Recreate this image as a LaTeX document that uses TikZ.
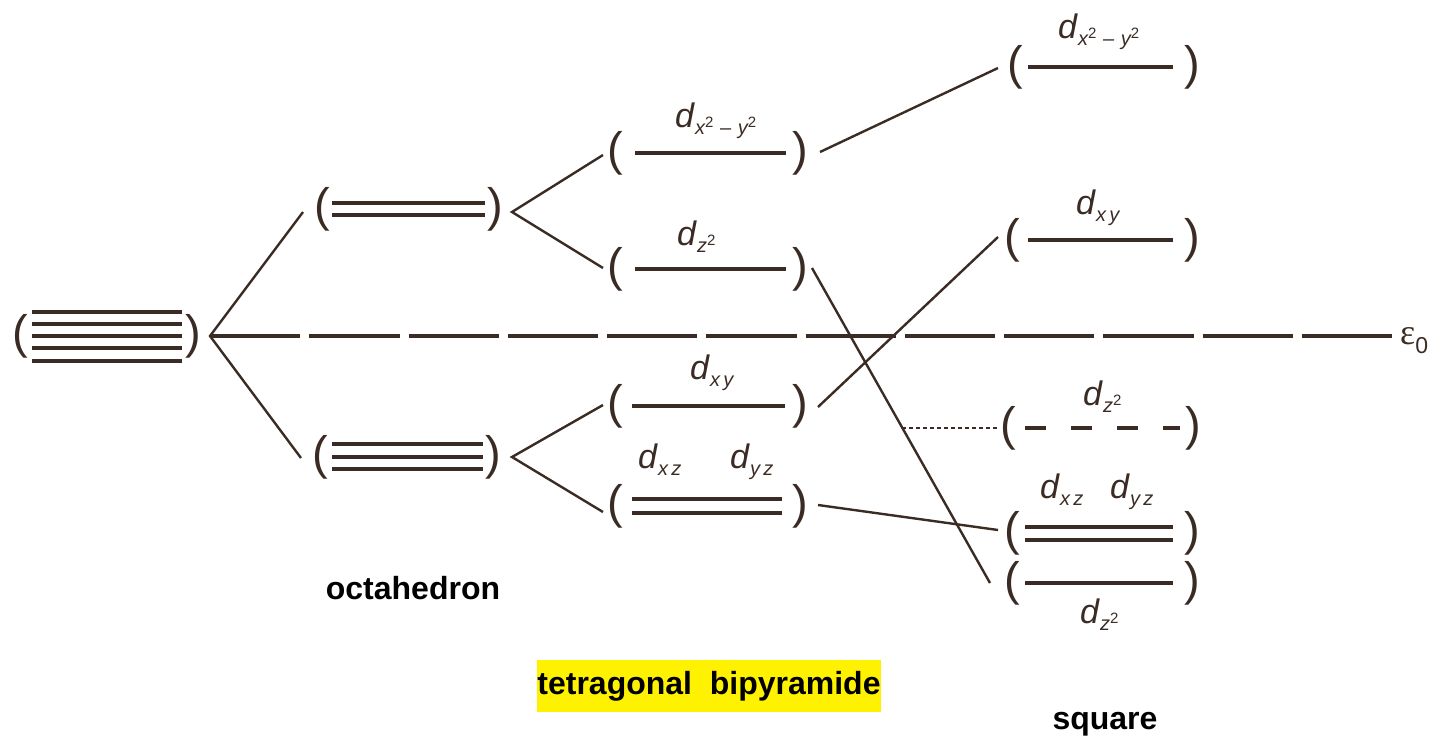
\documentclass[tikz,border=0pt]{standalone}
\usepackage{fontspec}
\setmainfont{Liberation Sans}
\newfontfamily\greekfont{Liberation Serif}
\usetikzlibrary{positioning}
\definecolor{ink}{RGB}{58,44,36}
\newcommand{\orb}[1]{{\fontsize{34}{34}\selectfont\textit{d}}\raisebox{-7pt}{\fontsize{20}{20}\selectfont\textit{#1}}}
\newcommand{\sq}{\raisebox{7pt}{\fontsize{15}{15}\selectfont\textup{2}}}

\begin{document}
\begin{tikzpicture}[x=1pt, y=-1pt, level/.style={ink, line width=3.6pt},
        conn/.style={ink, line width=2.4pt}, paren/.style={ink, inner sep=0pt,
        font=\fontsize{47}{47}\selectfont}, lab/.style={ink, inner sep=0pt,
        anchor=base west}, caption/.style={inner sep=0pt,
        font=\bfseries\fontsize{32}{32}\selectfont} ]

    \useasboundingbox (0,0) rectangle (1435,740);

    % spherical field: five degenerate levels
    \node[paren] (sphL) at (20,336) {(}; \node[paren] (sphR) at (193,336) {)};
    \foreach \y in {312,324,336,348,361} \draw[level] (32,\y) -- (182,\y);

    % octahedron
    \node[paren] (octUL) at (322,209) {(}; \node[paren] (octUR) at (495,209) {)};
    \draw[level] (332,203) -- (485,203); \draw[level] (332,215) -- (485,215);
    \node[paren] (octLL) at (320,457) {(}; \node[paren] (octLR) at (493,457) {)};
    \foreach \y in {444,457,469} \draw[level] (332,\y) -- (483,\y);

    % tetragonal bipyramide
    \node[paren] (mX2L) at (615,153) {(}; \node[paren] (mX2R) at (800,153) {)};
    \draw[level] (635,153) -- (786,153);
    \node[lab] (mX2lab) at (675,127) {\orb{x\sq\,\,--\,\,y\sq}};
    \node[paren] (mZ2L) at (615,269) {(}; \node[paren] (mZ2R) at (800,269) {)};
    \draw[level] (635,269) -- (786,269);
    \node[lab] (mZ2lab) at (677,245) {\orb{z\sq}};
    \node[paren] (mXYL) at (615,406) {(}; \node[paren] (mXYR) at (800,406) {)};
    \draw[level] (632,406) -- (785,406);
    \node[lab] (mXYlab) at (690,379) {\orb{x\,y}};
    \node[paren] (mXZL) at (615,506) {(}; \node[paren] (mXZR) at (800,506) {)};
    \draw[level] (632,499) -- (782,499); \draw[level] (632,513) -- (782,513);
    \node[lab] (mXZlab) at (638,468) {\orb{x\,z}};
    \node[lab] (mYZlab) at (730,468) {\orb{y\,z}};

    % square planar
    \node[paren] (sX2L) at (1015,67) {(}; \node[paren] (sX2R) at (1192,67) {)};
    \draw[level] (1028,67) -- (1173,67);
    \node[lab] (sX2lab) at (1058,38) {\orb{x\sq\,\,--\,\,y\sq}};
    \node[paren] (sXYL) at (1012,240) {(}; \node[paren] (sXYR) at (1192,240) {)};
    \draw[level] (1028,240) -- (1173,240);
    \node[lab] (sXYlab) at (1076,214) {\orb{x\,y}};
    \node[paren] (sZ2dL) at (1008,428) {(}; \node[paren] (sZ2dR) at (1193,428) {)};
    \draw[level, dash pattern=on 21pt off 25pt] (1025,428) -- (1180,428);
    \node[lab] (sZ2dlab) at (1083,405) {\orb{z\sq}};
    \node[paren] (sXZL) at (1012,533) {(}; \node[paren] (sXZR) at (1192,533) {)};
    \draw[level] (1025,527) -- (1173,527); \draw[level] (1025,540) -- (1173,540);
    \node[lab] (sXZlab) at (1040,498) {\orb{x\,z}};
    \node[lab] (sYZlab) at (1110,498) {\orb{y\,z}};
    \node[paren] (sZ2L) at (1012,583) {(}; \node[paren] (sZ2R) at (1192,583) {)};
    \draw[level] (1025,583) -- (1173,583);
    \node[lab] (sZ2lab) at (1080,623) {\orb{z\sq}};

    % connector ends
    \coordinate (split) at (210,336);
    \coordinate (octUin) at (303,212); \coordinate (octLin) at (301,458);
    \coordinate (octUout) at (512,212); \coordinate (octLout) at (512,457);
    \coordinate (mX2in) at (603,155); \coordinate (mZ2in) at (603,268);
    \coordinate (mXYin) at (603,405); \coordinate (mXZin) at (603,512);
    \coordinate (mX2out) at (820,152); \coordinate (mZ2out) at (812,268);
    \coordinate (mXYout) at (818,407); \coordinate (mXZout) at (818,505);
    \coordinate (sX2in) at (998,68); \coordinate (sXYin) at (998,237);
    \coordinate (sXZin) at (998,530); \coordinate (sZ2in) at (990,583);
    \coordinate (sZ2cut) at (902,428); \coordinate (sZ2din) at (998,428);

    % energy of the free ion
    \node[anchor=west, inner sep=0pt, ink] (eps) at (1400,341)
    {{\greekfont\fontsize{36}{36}\selectfont ε}\raisebox{-9pt}{\fontsize{23}{23}\selectfont 0}};
    \coordinate (epsend) at (1392,336);
    \draw[conn, line width=3.6pt, dash pattern=on 90.25pt off 9pt] (split) -- (epsend);

    \draw[conn] (octUin) -- (split) -- (octLin);
    \draw[conn] (mX2in) -- (octUout) -- (mZ2in);
    \draw[conn] (mXYin) -- (octLout) -- (mXZin);
    \draw[conn] (mX2out) -- (sX2in); \draw[conn] (mZ2out) -- (sZ2in);
    \draw[conn] (mXYout) -- (sXYin); \draw[conn] (mXZout) -- (sXZin);
    \draw[ink, line width=1.8pt, dash pattern=on 4pt off 3pt] (sZ2cut) -- (sZ2din);

    % captions
    \node[caption] (octa) at (413,588) {octahedron};
    \node[caption, fill=yellow, minimum width=342pt, minimum height=52pt]
    (tetra) at (709,686) {tetragonal\ \ bipyramide};
    \node[caption] (square) at (1105,724) {square};

  \end{tikzpicture}
\end{document}
